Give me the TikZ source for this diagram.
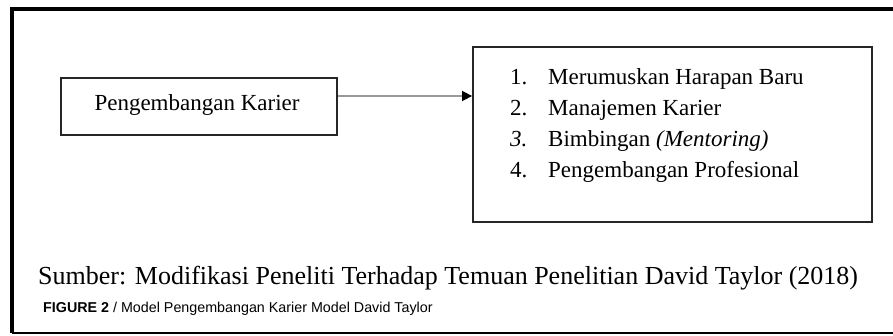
\documentclass[tikz,border=0pt]{standalone}
\usepackage{fontspec}
\setmainfont{Liberation Serif}
\setsansfont{Liberation Sans}
\usetikzlibrary{arrows.meta}
\begin{document}
\begin{tikzpicture}[>={Triangle[length=10pt,width=10pt,black]},x=1pt,y=-1pt,
	kotak/.style={draw=black!85,line width=1.8pt,inner sep=0pt},
	teks/.style={anchor=base west,inner sep=0pt,font=\fontsize{23}{28}\selectfont}]
			\useasboundingbox (0,0) rectangle (893,335);
			\def\kiri{12}
			\def\atas{9}
			\def\bawah{333}
			\draw[line width=4pt] (893,\atas)--(\kiri,\atas)--(\kiri,\bawah); % bingkai luar
			\draw[line width=2.2pt] (\kiri,\bawah)--(893,\bawah);
			\node[kotak,minimum width=276pt,minimum height=57pt] (karier) at (199,106.5) {};
			\node[teks,anchor=base] (karierteks) at (197,110) {Pengembangan Karier};
			\node[kotak,minimum width=399pt,minimum height=175pt] (tahap) at (672.5,134.5) {};
			\draw[->,black!40,line width=1.4pt] (karier.east|-0,96) -- (tahap.west|-0,96);
			% daftar tahap
			\node[teks] (n1) at (510,84) {1.};
			\node[teks] (t1) at (548,84) {Merumuskan Harapan Baru};
			\node[teks] (n2) at (510,115) {2.};
			\node[teks] (t2) at (548,115) {Manajemen Karier};
			\node[teks] (n3) at (510,146) {\textit{3.}};
			\node[teks] (t3) at (548,146) {Bimbingan \textit{(Mentoring)}};
			\node[teks] (n4) at (510,177) {4.};
			\node[teks] (t4) at (548,177) {Pengembangan Profesional};
			% sumber dan judul
			\node[teks,font=\fontsize{26}{30}\selectfont] (sumber) at (38,284) {Sumber: Modifikasi Peneliti Terhadap Temuan Penelitian David Taylor (2018)};
			\node[teks,font=\sffamily\fontsize{14.3}{17}\selectfont] (judul) at (43,312) {\textbf{FIGURE 2} / Model Pengembangan Karier Model David Taylor};
\end{tikzpicture}
\end{document}
